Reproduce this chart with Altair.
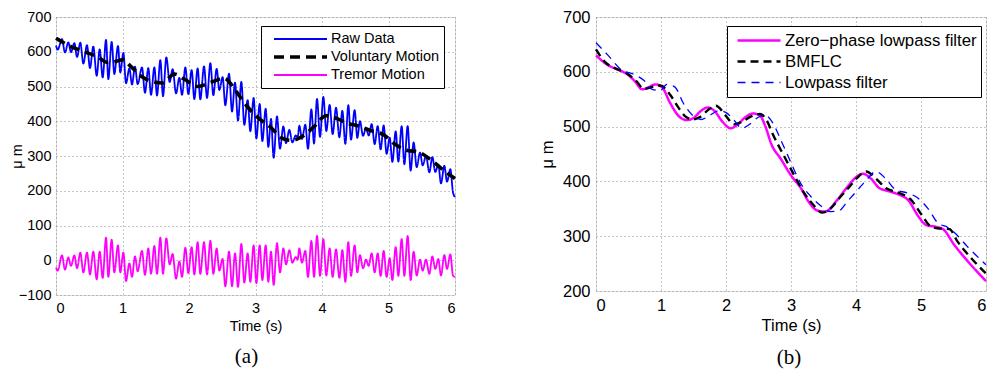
import altair as alt
import pandas as pd

FONT = "Liberation Sans"

# ---------------- Panel (a) data ----------------
trem_t = [0.000, 0.025, 0.090, 0.135, 0.185, 0.226, 0.276, 0.316, 0.366, 0.411,
          0.466, 0.511, 0.561, 0.612, 0.657, 0.702, 0.752, 0.787, 0.837, 0.877,
          0.932, 0.967, 1.013, 1.053, 1.103, 1.143, 1.188, 1.228, 1.293, 1.338,
          1.388, 1.429, 1.479, 1.519, 1.569, 1.609, 1.659, 1.709, 1.754, 1.805,
          1.855, 1.895, 1.945, 1.990, 2.040, 2.080, 2.130, 2.170, 2.226, 2.271,
          2.321, 2.366, 2.416, 2.456, 2.506, 2.546, 2.602, 2.647, 2.692, 2.737,
          2.787, 2.832, 2.882, 2.922, 2.972, 3.013, 3.063, 3.103, 3.153, 3.193,
          3.233, 3.273, 3.323, 3.368, 3.419, 3.459, 3.509, 3.554, 3.604, 3.634,
          3.659, 3.699, 3.749, 3.789, 3.840, 3.880, 3.925, 3.970, 4.020, 4.065,
          4.115, 4.160, 4.211, 4.261, 4.306, 4.351, 4.396, 4.436, 4.491, 4.531,
          4.571, 4.617, 4.662, 4.702, 4.747, 4.792, 4.837, 4.882, 4.927, 4.972,
          5.018, 5.058, 5.108, 5.148, 5.198, 5.238, 5.288, 5.333, 5.378, 5.424,
          5.474, 5.514, 5.564, 5.614, 5.659, 5.704, 5.749, 5.789, 5.840, 5.880,
          5.930, 5.970, 6.000]

tremor = [-21, -30, 14, -27, 8, -16, 14, -23, 22, -35,
          22, -41, 25, -55, 25, -51, 65, -48, 59, -35,
          43, -35, 22, -60, -9, -48, 11, -32, 27, -42,
          34, -39, 41, -39, 65, -39, 63, -12, 18, -53,
          -3, -48, 36, -37, 38, -41, 52, -39, 52, -41,
          56, -39, 34, -30, 4, -75, 25, -75, 20, -77,
          47, -64, 20, -62, 43, -66, 43, -57, 43, -62,
          25, -71, 49, -35, 34, -12, 29, -7, 9, 2,
          34, -7, 27, -48, 56, -48, 70, -45, 61, -44,
          34, -48, 31, -51, 29, -62, 52, -45, 43, -35,
          15, -23, 2, -16, 20, -35, 20, -45, 27, -48,
          6, -57, 38, -45, 61, -45, 70, -57, 25, -44,
          2, -30, 2, -39, 11, -25, 4, -44, 15, -25,
          17, -44, -48]

raw = [618, 606, 636, 598, 627, 599, 625, 585, 626, 566,
       619, 553, 615, 531, 607, 526, 634, 521, 628, 536,
       617, 540, 597, 509, 552, 506, 557, 507, 555, 482,
       553, 476, 555, 474, 576, 472, 584, 513, 550, 480,
       525, 476, 555, 478, 547, 464, 552, 463, 558, 467,
       567, 475, 551, 490, 527, 446, 537, 428, 511, 402,
       513, 390, 461, 371, 467, 350, 450, 343, 436, 326,
       407, 295, 414, 321, 385, 337, 375, 339, 359, 354,
       387, 349, 390, 321, 434, 336, 464, 355, 470, 372,
       447, 363, 439, 354, 430, 335, 446, 347, 432, 352,
       400, 358, 380, 359, 392, 334, 386, 319, 388, 306,
       353, 283, 371, 284, 386, 276, 386, 258, 339, 268,
       310, 273, 300, 253, 297, 254, 275, 221, 272, 226,
       262, 195, 182]

vol_t = [0.000, 0.226, 0.426, 0.627, 0.777, 0.877, 1.003, 1.128, 1.278, 1.429,
         1.604, 1.779, 1.930, 2.130, 2.331, 2.531, 2.632, 2.732, 2.882, 3.083,
         3.233, 3.383, 3.534, 3.709, 3.885, 4.060, 4.236, 4.386, 4.536, 4.737,
         4.937, 5.088, 5.288, 5.439, 5.639, 5.840, 6.000]
vol_v = [639, 615, 600, 585, 569, 571, 577, 557, 530, 515,
         510, 536, 521, 500, 512, 524, 507, 480, 441, 403,
         382, 353, 345, 357, 385, 416, 407, 394, 387, 373,
         360, 335, 316, 312, 289, 257, 235]

series_a = ["Raw Data", "Voluntary Motion", "Tremor Motion"]

# ---------------- Panel (b) data ----------------
zp_t = [0.000, 0.186, 0.337, 0.487, 0.588, 0.714, 0.814, 0.915, 1.015, 1.141,
        1.266, 1.392, 1.492, 1.618, 1.719, 1.819, 1.945, 2.070, 2.171, 2.296,
        2.422, 2.523, 2.598, 2.698, 2.849, 3.000, 3.151, 3.276, 3.402, 3.528,
        3.704, 3.854, 4.005, 4.106, 4.231, 4.357, 4.508, 4.658, 4.809, 4.960,
        5.085, 5.236, 5.337, 5.513, 5.714, 6.000]
zp_v = [630, 612, 604, 595, 584, 568, 572, 577, 572, 543,
        520, 512, 515, 529, 535, 529, 509, 497, 503, 517,
        524, 520, 503, 468, 440, 411, 388, 362, 347, 345,
        365, 388, 408, 414, 405, 388, 382, 376, 365, 336,
        320, 317, 313, 284, 255, 218]

bm_t = [0.000, 0.136, 0.286, 0.487, 0.613, 0.739, 0.889, 0.990, 1.141, 1.266,
        1.392, 1.492, 1.593, 1.744, 1.844, 1.995, 2.121, 2.246, 2.397, 2.523,
        2.623, 2.724, 2.899, 3.050, 3.201, 3.352, 3.477, 3.603, 3.754, 3.905,
        4.030, 4.156, 4.307, 4.457, 4.658, 4.834, 5.010, 5.161, 5.286, 5.437,
        5.563, 5.764, 6.000]
bm_v = [641, 618, 607, 596, 584, 569, 573, 575, 558, 535,
        517, 513, 517, 532, 538, 520, 504, 509, 519, 523,
        512, 485, 445, 411, 379, 356, 343, 350, 371, 391,
        408, 418, 405, 388, 379, 368, 339, 317, 314, 313,
        290, 261, 232]

lp_t = [0.000, 0.186, 0.387, 0.588, 0.739, 0.864, 0.990, 1.090, 1.216, 1.342,
        1.492, 1.618, 1.744, 1.894, 1.995, 2.121, 2.246, 2.347, 2.497, 2.598,
        2.724, 2.849, 3.000, 3.151, 3.302, 3.452, 3.603, 3.729, 3.879, 4.030,
        4.156, 4.307, 4.457, 4.608, 4.784, 4.935, 5.111, 5.261, 5.412, 5.538,
        5.714, 6.000]
lp_v = [653, 630, 604, 595, 584, 568, 566, 577, 572, 543,
        520, 513, 520, 529, 526, 512, 497, 503, 517, 521,
        506, 474, 434, 396, 373, 356, 345, 346, 365, 385,
        402, 418, 405, 385, 379, 371, 350, 324, 316, 304,
        281, 248]

series_b = ["Zero\u2212phase lowpass filter", "BMFLC", "Lowpass filter"]

x_ticks = [0, 1, 2, 3, 4, 5, 6]
ya_ticks = [-100, 0, 100, 200, 300, 400, 500, 600, 700]
yb_ticks = [200, 300, 400, 500, 600, 700]


def make_axis(values, title, fs, lpad, tpad):
    return alt.Axis(values=values, format="d", grid=True, gridColor="#8c8c8c",
                    gridDash=[1, 3], gridWidth=1, domain=False, ticks=False,
                    tickSize=0, labelPadding=lpad, labelFont=FONT,
                    labelFontSize=fs, labelColor="black", title=title,
                    titleFont=FONT, titleFontSize=fs, titleFontWeight="normal",
                    titleColor="black", titlePadding=tpad)


# ---------------- Panel (a) ----------------
rows = []
for t, v in zip(trem_t, raw):
    rows.append({"t": t, "v": v, "s": series_a[0]})
for t, v in zip(vol_t, vol_v):
    rows.append({"t": t, "v": v, "s": series_a[1]})
for t, v in zip(trem_t, tremor):
    rows.append({"t": t, "v": v, "s": series_a[2]})
df_a = pd.DataFrame(rows)

fs_a = 14.5
leg_a = alt.Legend(title=None, orient="none", legendX=205, legendY=9,
                   direction="vertical", symbolType="stroke", symbolSize=2809,
                   clipHeight=18, labelFont=FONT, labelFontSize=fs_a,
                   labelColor="black", labelLimit=300, strokeColor="black",
                   fillColor="white", padding=4, symbolOffset=7,
                   labelOffset=2, rowPadding=0, cornerRadius=0)

chart_a = alt.Chart(df_a).mark_line(interpolate="monotone").encode(
    x=alt.X("t:Q", scale=alt.Scale(domain=[0, 6], nice=False, zero=False),
            axis=make_axis(x_ticks, "Time (s)", fs_a, 6, 5)),
    y=alt.Y("v:Q", scale=alt.Scale(domain=[-100, 700], nice=False, zero=False),
            axis=make_axis(ya_ticks, "\u03bc m", fs_a, 5, -6)),
    color=alt.Color("s:N", scale=alt.Scale(domain=series_a,
                    range=["#0000ff", "#000000", "#ff00ff"]), legend=leg_a),
    strokeDash=alt.StrokeDash("s:N", scale=alt.Scale(domain=series_a,
                              range=[[1, 0], [10, 6], [1, 0]]), legend=leg_a),
    strokeWidth=alt.StrokeWidth("s:N", scale=alt.Scale(type="ordinal", domain=series_a,
                                range=[1.8, 3.6, 1.8]), legend=leg_a),
).properties(
    width=399, height=278,
    title=alt.TitleParams("(a)", orient="bottom", font="Liberation Serif",
                          fontSize=21, fontWeight="normal", color="black",
                          offset=13, dx=-9, anchor="middle"),
)

# ---------------- Panel (b) ----------------
rows = []
for t, v in zip(zp_t, zp_v):
    rows.append({"t": t, "v": v, "s": series_b[0]})
for t, v in zip(bm_t, bm_v):
    rows.append({"t": t, "v": v, "s": series_b[1]})
for t, v in zip(lp_t, lp_v):
    rows.append({"t": t, "v": v, "s": series_b[2]})
df_b = pd.DataFrame(rows)

fs_b = 16.5
leg_b = alt.Legend(title=None, orient="none", legendX=131, legendY=9,
                   direction="vertical", symbolType="stroke", symbolSize=1849,
                   clipHeight=21, labelFont=FONT, labelFontSize=16.8,
                   labelColor="black", labelLimit=300, strokeColor="black",
                   fillColor="white", padding=4, symbolOffset=5,
                   labelOffset=3, rowPadding=0, cornerRadius=0)

chart_b = alt.Chart(df_b).mark_line(interpolate="monotone").encode(
    x=alt.X("t:Q", scale=alt.Scale(domain=[0, 6], nice=False, zero=False),
            axis=make_axis(x_ticks, "Time (s)", fs_b, 6, 4)),
    y=alt.Y("v:Q", scale=alt.Scale(domain=[200, 700], nice=False, zero=False),
            axis=make_axis(yb_ticks, "\u03bc m", fs_b, 6, 7)),
    color=alt.Color("s:N", scale=alt.Scale(domain=series_b,
                    range=["#ff00ff", "#000000", "#0000ff"]), legend=leg_b),
    strokeDash=alt.StrokeDash("s:N", scale=alt.Scale(domain=series_b,
                              range=[[1, 0], [8, 5], [8, 6]]), legend=leg_b),
    strokeWidth=alt.StrokeWidth("s:N", scale=alt.Scale(type="ordinal", domain=series_b,
                                range=[2.5, 2.4, 1.3]), legend=leg_b),
).properties(
    width=390, height=274,
    title=alt.TitleParams("(b)", orient="bottom", font="Liberation Serif",
                          fontSize=21, fontWeight="normal", color="black",
                          offset=13, dx=-2, anchor="middle"),
)

chart = alt.hconcat(chart_a, chart_b, spacing=141, bounds="flush").resolve_scale(
    color="independent", strokeDash="independent", strokeWidth="independent",
    x="independent", y="independent"
).properties(
    padding={"left": 0, "top": 0, "right": 0, "bottom": 0}
).configure_view(stroke="black", strokeWidth=1).configure(background="white")

chart.save("out.html", embed_options={"renderer": "svg", "actions": False})
